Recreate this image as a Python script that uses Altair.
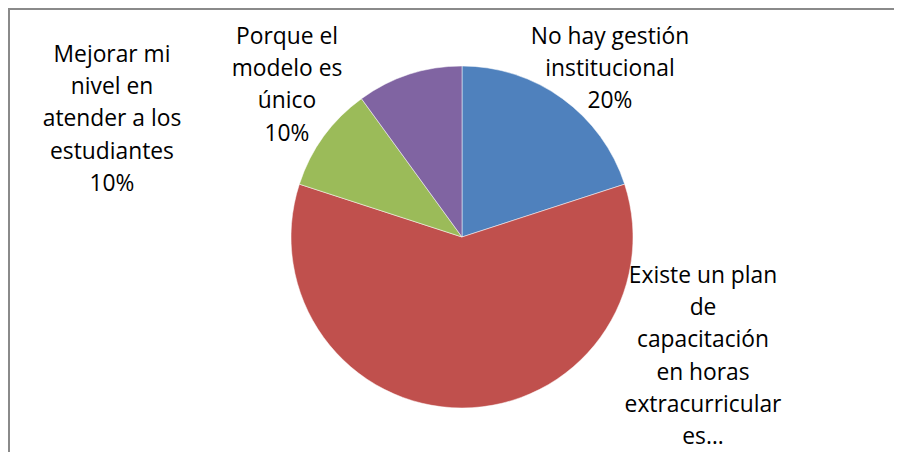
import altair as alt
import pandas as pd

categories = [
    "No hay gestión institucional",
    "Existe un plan de capacitación en horas extracurriculares",
    "Mejorar mi nivel en atender a los estudiantes",
    "Porque el modelo es único",
]
values = [20, 60, 10, 10]
colors = ["#4F81BD", "#C0504D", "#9BBB59", "#8064A2"]
label_lines = [
    ["No hay gestión", "institucional", "20%"],
    ["Existe un plan", "de", "capacitación", "en horas", "extracurricular", "es…"],
    ["Mejorar mi", "nivel en", "atender a los", "estudiantes", "10%"],
    ["Porque el", "modelo es", "único", "10%"],
]

W, H = 886, 444
CX, CY, R = 454, 229, 171

df = pd.DataFrame({"cat": categories, "value": values, "order": list(range(len(values)))})

pie = alt.Chart(df).mark_arc(radius=R, stroke="white", strokeWidth=0.5).encode(
    theta=alt.Theta("value:Q", stack=True),
    order=alt.Order("order:Q"),
    color=alt.Color("cat:N", scale=alt.Scale(domain=categories, range=colors), legend=None),
    x=alt.value(CX),
    y=alt.value(CY),
)

# label anchor (center of first line) per category
anchors = [(602, 29), (695, 268), (104, 47), (279, 29)]
FONT = "Open Sans"
FS = 22.8
LH = 32.2

layers = [pie]
for lines, (ax, ay) in zip(label_lines, anchors):
    tdf = pd.DataFrame({"t": ["\n".join(lines)]})
    layers.append(
        alt.Chart(tdf).mark_text(
            font=FONT, fontSize=FS, lineHeight=LH, lineBreak="\n",
            align="center", baseline="middle", color="#000000",
        ).encode(text="t:N", x=alt.value(ax), y=alt.value(ay))
    )

frame_left = alt.Chart(pd.DataFrame({"a": [0]})).mark_rule(color="#8a8a8a", strokeWidth=2).encode(
    x=alt.value(1), y=alt.value(0), y2=alt.value(H)
)
frame_top = alt.Chart(pd.DataFrame({"a": [0]})).mark_rule(color="#8a8a8a", strokeWidth=2).encode(
    x=alt.value(0), x2=alt.value(W), y=alt.value(1)
)
layers += [frame_left, frame_top]

chart = alt.layer(*layers).properties(
    width=W, height=H, padding=0, autosize=alt.AutoSizeParams(type="none"), background="white"
).configure_view(stroke=None)

chart.save("out.html", embed_options={"renderer": "svg", "actions": False})
